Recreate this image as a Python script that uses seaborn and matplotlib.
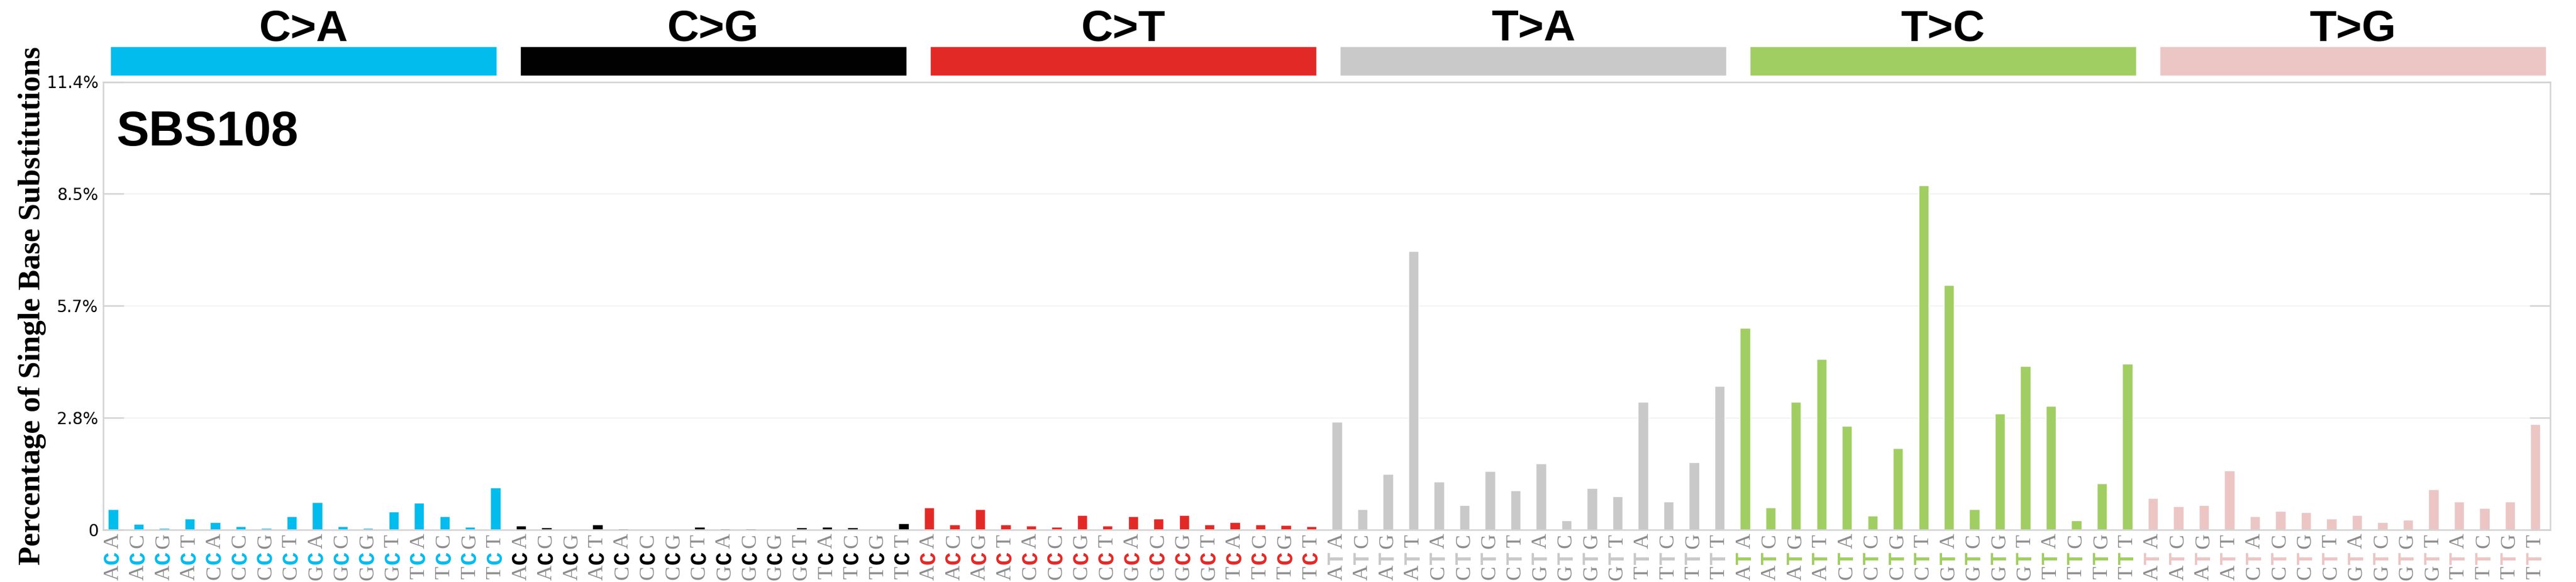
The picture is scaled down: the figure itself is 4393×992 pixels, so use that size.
import numpy as np
import pandas as pd
import matplotlib
matplotlib.use("Agg")
import matplotlib.pyplot as plt
import matplotlib.transforms as mtransforms
import seaborn as sns

# substitution classes and their colours
groups = ["C>A", "C>G", "C>T", "T>A", "T>C", "T>G"]
colors = ["#03BCEE", "#010101", "#E32926", "#CAC9C9", "#A1CE63", "#EBC6C4"]

# trinucleotide context: 5' base and 3' base for the 16 bars of each class
five_prime = ["A", "A", "A", "A", "C", "C", "C", "C", "G", "G", "G", "G", "T", "T", "T", "T"]
three_prime = ["A", "C", "G", "T", "A", "C", "G", "T", "A", "C", "G", "T", "A", "C", "G", "T"]

# percentages
ca = [0.52, 0.15, 0.04, 0.29, 0.20, 0.085, 0.04, 0.34, 0.70, 0.085, 0.04, 0.46, 0.68, 0.35, 0.07, 1.07]
cg = [0.10, 0.055, 0.01, 0.13, 0.025, 0.02, 0.01, 0.07, 0.025, 0.025, 0.003, 0.055, 0.07, 0.055, 0.01, 0.17]
ct = [0.56, 0.13, 0.53, 0.13, 0.10, 0.07, 0.38, 0.10, 0.35, 0.28, 0.37, 0.13, 0.19, 0.13, 0.12, 0.09]
ta = [2.74, 0.52, 1.42, 7.09, 1.23, 0.62, 1.50, 1.00, 1.69, 0.24, 1.06, 0.85, 3.26, 0.72, 1.71, 3.66]
tc = [5.13, 0.57, 3.26, 4.34, 2.64, 0.36, 2.08, 8.77, 6.22, 0.52, 2.95, 4.17, 3.15, 0.24, 1.18, 4.23]
tg = [0.81, 0.60, 0.62, 1.51, 0.34, 0.48, 0.45, 0.28, 0.38, 0.20, 0.25, 1.03, 0.72, 0.55, 0.72, 2.69]
values = [ca, cg, ct, ta, tc, tg]

y_max = 11.4
y_ticks = [0, 2.85, 5.7, 8.55, 11.4]
y_tick_labels = ["0", "2.8%", "5.7%", "8.5%", "11.4%"]
signature = "SBS108"

rows = []
for g, vals in zip(groups, values):
    for f, t, v in zip(five_prime, three_prime, vals):
        rows.append({"type": f + "[" + g + "]" + t, "group": g, "pct": v,
                     "left": f, "mid": g[0], "right": t})
df = pd.DataFrame(rows)

sns.set_style("white")
plt.rcParams["text.color"] = "black"
plt.rcParams["ytick.labelcolor"] = "black"
W, H = 4393, 992
fig = plt.figure(figsize=(W / 100, H / 100), dpi=100)
ax = fig.add_axes([176 / W, 1 - 903 / H, (4349 - 176) / W, (903 - 139.5) / H])

sns.barplot(data=df, x="type", y="pct", hue="group", palette=dict(zip(groups, colors)),
            dodge=False, width=0.4, saturation=1, legend=False, ax=ax)

ax.set_xlim(-0.39, 95.58)
ax.set_ylim(0, y_max)
ax.set_yticks(y_ticks)
ax.set_yticklabels(y_tick_labels)
ax.yaxis.grid(True, color="#ebebeb", lw=0.8)
ax.set_axisbelow(True)
ax.tick_params(axis="y", direction="in", length=25, width=1.8, color="#d3d3d3",
               labelsize=20, labelcolor="black", pad=6, left=True, right=True,
               labelright=False)
ax.tick_params(axis="x", length=0)
ax.set_xticks(range(len(df)))
ax.set_xticklabels([])
ax.set_xlabel("")
for s in ax.spines.values():
    s.set_color("#d3d3d3")
    s.set_linewidth(1.8)

ax.set_ylabel("Percentage of Single Base Substitutions", fontsize=38, fontweight="bold",
              family="Liberation Serif", va="center", color="black")
ax.yaxis.set_label_coords(-0.029, 0.5)

ax.text(0.0053, 0.858, signature, transform=ax.transAxes, fontsize=60, fontweight="bold",
        family="Liberation Sans", va="baseline", ha="left", color="black")

# context letters under each bar, read bottom to top
trans = mtransforms.blended_transform_factory(ax.transData, ax.transAxes)
col_of = dict(zip(groups, colors))
for i, r in df.iterrows():
    ax.text(i, -0.0245, r["right"], transform=trans, rotation=90, ha="center", va="center",
            fontsize=26, color="#8c8c8c", family="Liberation Serif")
    ax.text(i, -0.0629, r["mid"], transform=trans, rotation=90, ha="center", va="center",
            fontsize=27, color=col_of[r["group"]], fontweight="bold", family="Liberation Mono")
    ax.text(i, -0.0950, r["left"], transform=trans, rotation=90, ha="center", va="center",
            fontsize=26, color="#8c8c8c", family="Liberation Serif")

# coloured header strips with class names
hx = fig.add_axes([188 / W, 1 - 129 / H, (4342 - 188) / W, 50 / H])
strip = 659 / 699
hx.bar(range(len(groups)), [1] * len(groups), width=strip, align="edge", color=colors)
hx.set_xlim(0, len(groups) - 1 + strip)
hx.set_ylim(0, 1)
hx.axis("off")
for i, g in enumerate(groups):
    hx.text(i + strip / 2, 1.2, g, ha="center", va="baseline", fontsize=54,
            fontweight="bold", family="Liberation Sans", color="black")

fig.savefig("out.png", dpi=100)
